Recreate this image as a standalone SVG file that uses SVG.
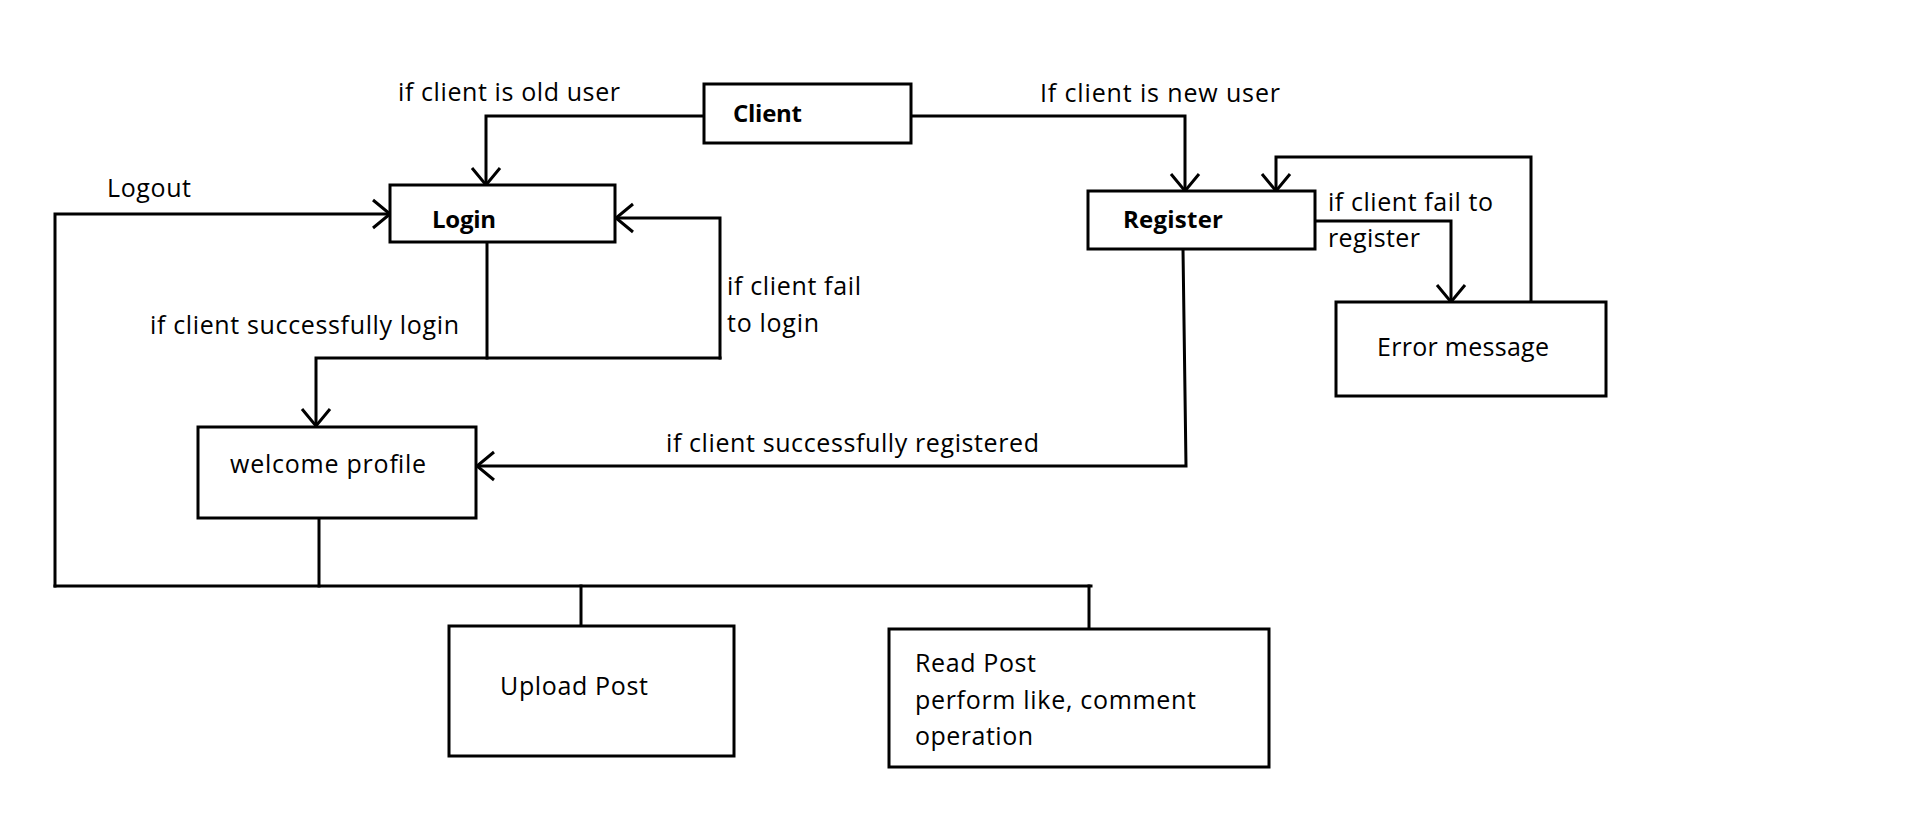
<svg xmlns="http://www.w3.org/2000/svg" width="1914" height="840" viewBox="0 0 1914 840">
<style>
.box{fill:#fff;stroke:#000;stroke-width:3}
.ln{fill:none;stroke:#000;stroke-width:3;stroke-linejoin:miter;stroke-linecap:square}
.arr{marker-end:url(#ah)}
text{font-family:"Open Sans","Noto Sans",sans-serif;font-size:25px;fill:#000}
.b{font-weight:bold;font-size:24px}
</style>
<defs>
<marker id="ah" markerUnits="userSpaceOnUse" markerWidth="40" markerHeight="40" refX="20" refY="20" orient="auto" viewBox="0 0 40 40">
<path d="M3,6 L20,20 L3,34" fill="none" stroke="#000" stroke-width="3"/>
</marker>
</defs>
<rect width="1914" height="840" fill="#fff"/>
<g id="connectors">
<path class="ln arr" d="M704,116 H486 V185"/>
<path class="ln arr" d="M911,116 H1185 V191"/>
<path class="ln" d="M487,242 V358"/>
<path class="ln arr" d="M720,358 H316 V426"/>
<path class="ln arr" d="M720,358 V218 H616"/>
<path class="ln arr" d="M1315,221 H1451 V302"/>
<path class="ln arr" d="M1531,302 V157 H1276 V191"/>
<path class="ln arr" d="M1183,249 L1186,466 H477"/>
<path class="ln" d="M319,518 V586"/>
<path class="ln" d="M55,586 H1091"/>
<path class="ln arr" d="M55,586 V214 H390"/>
<path class="ln" d="M581,586 V626"/>
<path class="ln" d="M1089,586 V629"/>
<text x="398" y="101" textLength="222" lengthAdjust="spacing">if client is old user</text>
<text x="1040" y="102" textLength="240" lengthAdjust="spacing">If client is new user</text>
<text x="107" y="197" textLength="84" lengthAdjust="spacing">Logout</text>
<text x="150" y="334" textLength="309" lengthAdjust="spacing">if client successfully login</text>
<text x="727" y="295" textLength="134" lengthAdjust="spacing">if client fail</text>
<text x="727" y="332" textLength="92" lengthAdjust="spacing">to login</text>
<text x="1328" y="211" textLength="165" lengthAdjust="spacing">if client fail to</text>
<text x="1328" y="247" textLength="92" lengthAdjust="spacing">register</text>
<text x="666" y="452" textLength="373" lengthAdjust="spacing">if client successfully registered</text>
</g>
<g id="client">
<rect class="box" x="704" y="84" width="207" height="59"/>
<text class="b" x="733" y="122" textLength="69" lengthAdjust="spacing">Client</text>
</g>
<g id="login">
<rect class="box" x="390" y="185" width="225" height="57"/>
<text class="b" x="432" y="228" textLength="64" lengthAdjust="spacing">Login</text>
</g>
<g id="register">
<rect class="box" x="1088" y="191" width="227" height="58"/>
<text class="b" x="1123" y="228" textLength="100" lengthAdjust="spacing">Register</text>
</g>
<g id="error-message">
<rect class="box" x="1336" y="302" width="270" height="94"/>
<text x="1377" y="356" textLength="172" lengthAdjust="spacing">Error message</text>
</g>
<g id="welcome-profile">
<rect class="box" x="198" y="427" width="278" height="91"/>
<text x="230" y="473" textLength="196" lengthAdjust="spacing">welcome profile</text>
</g>
<g id="upload-post">
<rect class="box" x="449" y="626" width="285" height="130"/>
<text x="500" y="695" textLength="148" lengthAdjust="spacing">Upload Post</text>
</g>
<g id="read-post">
<rect class="box" x="889" y="629" width="380" height="138"/>
<text x="915" y="672" textLength="121" lengthAdjust="spacing">Read Post</text>
<text x="915" y="709" textLength="281" lengthAdjust="spacing">perform like, comment</text>
<text x="915" y="745" textLength="118" lengthAdjust="spacing">operation</text>
</g>
</svg>
